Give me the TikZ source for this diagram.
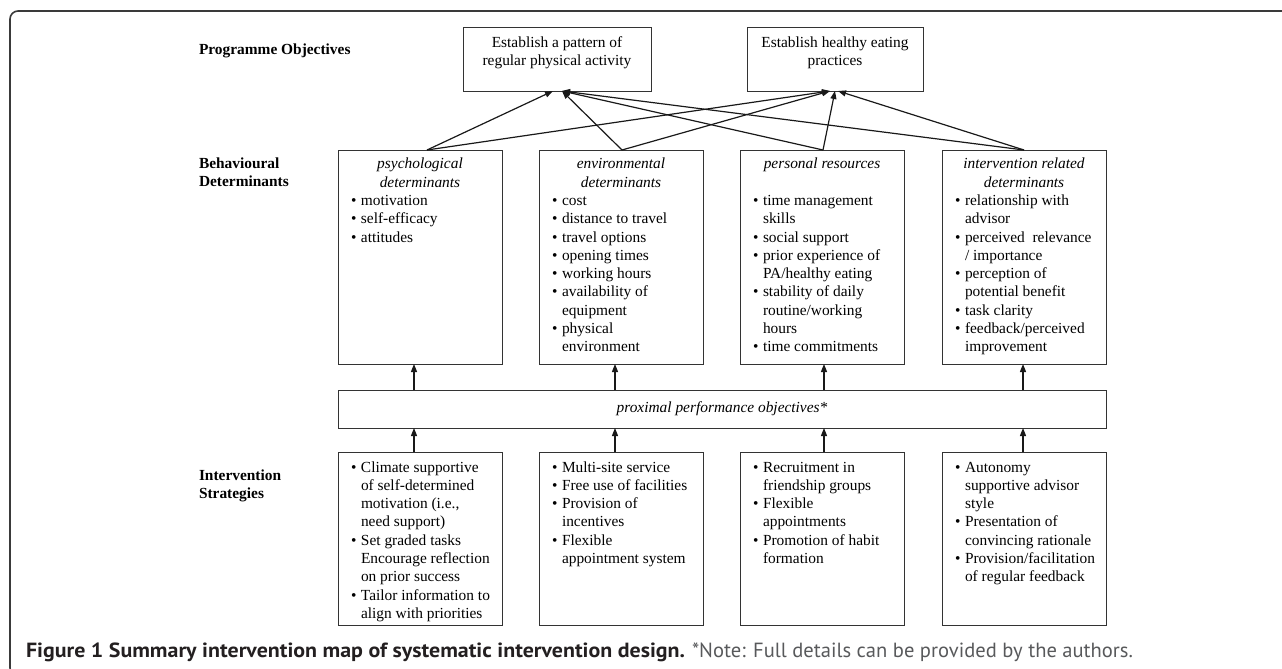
\documentclass[tikz,border=0pt]{standalone}
\usepackage{fontspec}
\usepackage{graphicx}
\setmainfont{Liberation Serif}
\newfontfamily\capfont{PT Sans}
\usetikzlibrary{arrows.meta,calc}
\definecolor{capdark}{HTML}{231F20}
\definecolor{capgray}{HTML}{58595B}
\definecolor{framec}{HTML}{3A3A3A}
\newcommand\bodyfont{\fontsize{15.4}{18.3}\selectfont}
\newcommand\bl{\textbullet}
\tikzset{
  bx/.style={draw=black!80, line width=1pt, inner sep=0pt, outer sep=0pt},
  arr/.style={-{Triangle[length=8pt,width=6pt]}, line width=1.2pt, draw=black!90},
  txt/.style={inner sep=0pt, outer sep=0pt, font=\bodyfont},
  ttl/.style={txt, anchor=north, font=\bodyfont\itshape},
  lst/.style={txt, anchor=north west},
  lbl/.style={txt, anchor=west, align=left, font=\bodyfont\bfseries},
  detbox/.style={bx, minimum width=164pt, minimum height=214pt},
  intbox/.style={bx, minimum width=164pt, minimum height=173pt},
}
\begin{document}
\begin{tikzpicture}[x=1pt,y=-1pt]
\useasboundingbox (0,0) rectangle (1282,669);
\begin{scope}
  \clip (0,0) rectangle (1282,669);
  \draw[framec, line width=1.6pt, rounded corners=8pt] (10,11) rectangle (1300,676);
\end{scope}

% row labels
\node[lbl] (lpo) at (199,51) {Programme Objectives};
\node[lbl] (lbd) at (199,172.5) {Behavioural\\Determinants};
\node[lbl] (lis) at (199,486) {Intervention\\Strategies};

% objective boxes
\node[bx, minimum width=188pt, minimum height=63pt] (o1) at (557,59.5) {};
\node[txt, align=center] (o1t) at (557,53) {Establish a pattern of\\regular physical activity};
\node[bx, minimum width=176pt, minimum height=63pt] (o2) at (835,59.5) {};
\node[txt, align=center] (o2t) at (835,53) {Establish healthy eating\\practices};

% determinant boxes
\node[detbox] (dA) at (420,257) {};
\node[detbox] (dB) at (621,257) {};
\node[detbox] (dC) at (822,257) {};
\node[detbox] (dD) at (1024,257) {};

\node[ttl] (tA) at (420,156) {\begin{tabular}{@{}c@{}}psychological\\determinants\end{tabular}};
\node[ttl] (tB) at (621,156) {\begin{tabular}{@{}c@{}}environmental\\determinants\end{tabular}};
\node[ttl] (tC) at (822,156) {\begin{tabular}{@{}c@{}}personal resources\end{tabular}};
\node[ttl] (tD) at (1024,156) {\begin{tabular}{@{}c@{}}intervention related\\determinants\end{tabular}};

\node[lst] (lA) at (351,192.6) {\begin{tabular}{@{}p{10pt}@{}l@{}}
\bl & motivation\\
\bl & self-efficacy\\
\bl & attitudes
\end{tabular}};
\node[lst] (lB) at (552,192.6) {\begin{tabular}{@{}p{10pt}@{}l@{}}
\bl & cost\\
\bl & distance to travel\\
\bl & travel options\\
\bl & opening times\\
\bl & working hours\\
\bl & availability of\\
    & equipment\\
\bl & physical\\
    & environment
\end{tabular}};
\node[lst] (lC) at (753,192.6) {\begin{tabular}{@{}p{10pt}@{}l@{}}
\bl & time management\\
    & skills\\
\bl & social support\\
\bl & prior experience of\\
    & PA/healthy eating\\
\bl & stability of daily\\
    & routine/working\\
    & hours\\
\bl & time commitments
\end{tabular}};
\node[lst] (lD) at (955,192.6) {\begin{tabular}{@{}p{10pt}@{}l@{}}
\bl & relationship with\\
    & advisor\\
\bl & perceived\ \ relevance\\
    & / importance\\
\bl & perception of\\
    & potential benefit\\
\bl & task clarity\\
\bl & feedback/perceived\\
    & improvement
\end{tabular}};

% proximal performance objectives
\node[bx, minimum width=768pt, minimum height=38pt] (prox) at (722,409) {};
\node[txt, font=\bodyfont\itshape] (proxt) at (722,409) {proximal performance objectives*};

% intervention strategy boxes
\node[intbox] (iA) at (420,538.5) {};
\node[intbox] (iB) at (621,538.5) {};
\node[intbox] (iC) at (822,538.5) {};
\node[intbox] (iD) at (1024,538.5) {};

\node[lst] (sA) at (351,459.2) {\begin{tabular}{@{}p{10pt}@{}l@{}}
\bl & Climate supportive\\
    & of self-determined\\
    & motivation (i.e.,\\
    & need support)\\
\bl & Set graded tasks\\
    & Encourage reflection\\
    & on prior success\\
\bl & Tailor information to\\
    & align with priorities
\end{tabular}};
\node[lst] (sB) at (552,459.2) {\begin{tabular}{@{}p{10pt}@{}l@{}}
\bl & Multi-site service\\
\bl & Free use of facilities\\
\bl & Provision of\\
    & incentives\\
\bl & Flexible\\
    & appointment system
\end{tabular}};
\node[lst] (sC) at (753,459.2) {\begin{tabular}{@{}p{10pt}@{}l@{}}
\bl & Recruitment in\\
    & friendship groups\\
\bl & Flexible\\
    & appointments\\
\bl & Promotion of habit\\
    & formation
\end{tabular}};
\node[lst] (sD) at (955,459.2) {\begin{tabular}{@{}p{10pt}@{}l@{}}
\bl & Autonomy\\
    & supportive advisor\\
    & style\\
\bl & Presentation of\\
    & convincing rationale\\
\bl & Provision/facilitation\\
    & of regular feedback
\end{tabular}};

% diagonal arrows determinants -> objectives
\draw[arr] ($(dA.north)+(7,0)$) -- ($(o1.south)+(-4,0)$);
\draw[arr] ($(dA.north)+(7,0)$) -- ($(o2.south)+(-5,0)$);
\draw[arr] ($(dB.north)+(1,0)$) -- ($(o1.south)+(5,0)$);
\draw[arr] ($(dB.north)+(1,0)$) -- ($(o2.south)+(-5,0)$);
\draw[arr] ($(dC.north)+(1,0)$) -- ($(o1.south)+(5,0)$);
\draw[arr] ($(dC.north)+(1,0)$) -- ($(o2.south)+(0,0)$);
\draw[arr] (dD.north) -- ($(o1.south)+(5,0)$);
\draw[arr] (dD.north) -- ($(o2.south)+(3,0)$);

% vertical arrows proximal -> determinants
\draw[arr] ($(dA.south |- prox.north)+(-6,0)$) -- ($(dA.south)+(-6,0)$);
\draw[arr] ($(dB.south |- prox.north)+(-6,0)$) -- ($(dB.south)+(-6,0)$);
\draw[arr] ($(dC.south |- prox.north)+(2,0)$) -- ($(dC.south)+(2,0)$);
\draw[arr] ($(dD.south |- prox.north)+(-1,0)$) -- ($(dD.south)+(-1,0)$);

% vertical arrows strategies -> proximal
\draw[arr] ($(iA.north)+(-6,0)$) -- ($(iA.north |- prox.south)+(-6,0)$);
\draw[arr] ($(iB.north)+(-6,0)$) -- ($(iB.north |- prox.south)+(-6,0)$);
\draw[arr] ($(iC.north)+(2,0)$) -- ($(iC.north |- prox.south)+(2,0)$);
\draw[arr] ($(iD.north)+(-1,0)$) -- ($(iD.north |- prox.south)+(-1,0)$);

% caption
\node[inner sep=0pt, outer sep=0pt, anchor=base west] (cap) at (26,657)
  {\capfont\fontsize{20.5}{24}\selectfont
   \textcolor{capdark}{\resizebox{659pt}{\height}{\bfseries Figure 1 Summary intervention map of systematic intervention design.}}\hspace{7pt}%
   \textcolor{capgray}{\resizebox{441pt}{\height}{*Note: Full details can be provided by the authors.}}};
\end{tikzpicture}
\end{document}
